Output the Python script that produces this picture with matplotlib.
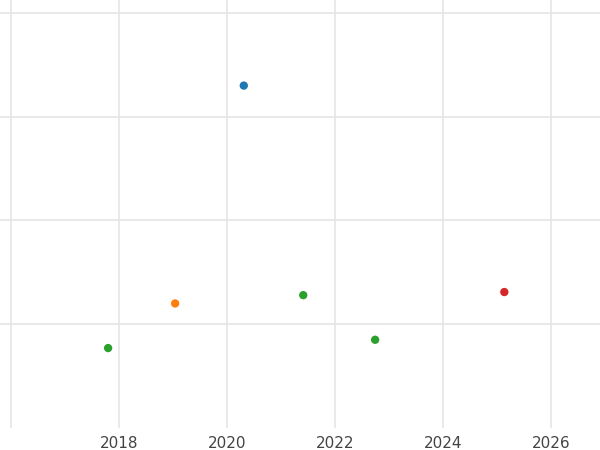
import matplotlib
matplotlib.use("Agg")
from matplotlib import pyplot as plt

# points
years = [2020.31, 2019.04, 2017.80, 2021.41, 2022.74, 2025.13]
values = [3.30, 1.20, 0.77, 1.28, 0.85, 1.31]
colors = ["#1f77b4", "#ff7f0e", "#2ca02c", "#2ca02c", "#2ca02c", "#d62728"]
xticks = [2018, 2020, 2022, 2024, 2026]

fig = plt.figure(figsize=(6, 4.5), dpi=100)
ax = fig.add_axes([0, 0.049, 1, 0.951])
ax.scatter(years, values, c=colors, s=36, zorder=3, edgecolors="none")

ax.set_xlim(2015.8, 2026.9)
ax.set_ylim(0, 4.125)
ax.set_xticks([2016] + xticks)
ax.set_xticklabels([""] + [str(t) for t in xticks])
ax.set_yticks([1, 2, 3, 4])
ax.set_yticklabels([])
ax.grid(True, color="#e5e5e5", linewidth=1.2)
ax.set_axisbelow(True)
for s in ax.spines.values():
    s.set_visible(False)
ax.tick_params(length=0, labelsize=11, labelcolor="#444444", pad=6)

fig.savefig("out.png", dpi=100)
